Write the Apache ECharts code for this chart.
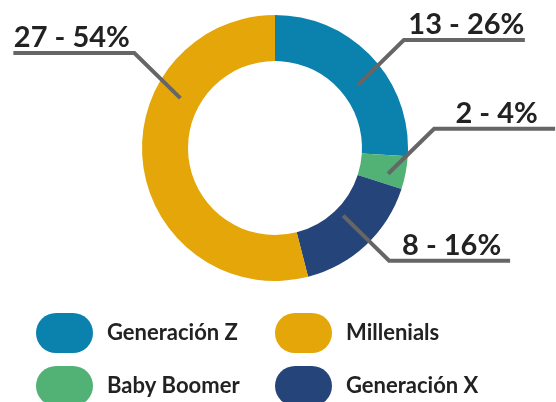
<!DOCTYPE html>
<html><head><meta charset="utf-8">
<script src="https://cdn.jsdelivr.net/npm/echarts@6/dist/echarts.min.js"></script>
<style>html,body{margin:0;padding:0;background:#fff}#c{width:556px;height:402px}</style>
</head><body><div id="c"></div>
<script>
// data (clockwise from top)
const categories = ['Generación Z', 'Baby Boomer', 'Generación X', 'Millenials'];
const values = [13, 2, 8, 27];
const legendCol1 = ['Generación Z', 'Baby Boomer'];
const legendCol2 = ['Millenials', 'Generación X'];

// styles / layout
const colors = ['#0a82ad', '#52b275', '#25457a', '#e4a608'];
const CX = 275, CY = 148, R0 = 87, R1 = 133;
// leader line: angle offset from slice mid-angle (deg), start radius, vertical direction
const leader = [
  { off: 6, rho: 104, dir: -1 },
  { off: 2, rho: 116, dir: -1 },
  { off: -2, rho: 96, dir: 1 },
  { off: 35, rho: 107, dir: -1 }
];
const DIAG_X = 46, DIAG_Y = 45, HLEN = 121;

const legendBase = {
  orient: 'vertical', top: 313, height: 120, padding: 0,
  itemWidth: 57, itemHeight: 40, itemGap: 13,
  icon: 'path://M20,0H37A20,20,0,0,1,37,40H20A20,20,0,0,1,20,0Z',
  selectedMode: false,
  textStyle: { fontFamily: 'Lato', fontWeight: 'bold', fontSize: 22, color: '#222', padding: [0, 0, 0, 9] }
};

const chart = echarts.init(document.getElementById('c'), null, { renderer: 'canvas' });
chart.setOption({
  animation: false,
  color: colors,
  legend: [
    Object.assign({}, legendBase, { data: legendCol1, left: 36 }),
    Object.assign({}, legendBase, { data: legendCol2, left: 275 })
  ],
  series: [{
    type: 'pie',
    center: [CX, CY],
    radius: [R0, R1],
    startAngle: 90,
    clockwise: true,
    avoidLabelOverlap: false,
    emphasis: { disabled: true },
    data: categories.map((n, i) => ({ name: n, value: values[i] })),
    label: {
      show: true, position: 'outside',
      formatter: p => p.value + ' - ' + p.percent + '%',
      fontFamily: 'Lato', fontWeight: 'bold', fontSize: 29, color: '#222', lineHeight: 29
    },
    labelLine: { show: true, length: 20, length2: 20, lineStyle: { color: '#666', width: 4, cap: 'butt', join: 'miter' } },
    labelLayout: function (p) {
      const L = leader[p.dataIndex];
      const pt = p.labelLinePoints[0];
      const a = Math.atan2(pt[1] - CY, pt[0] - CX) + L.off * Math.PI / 180;
      const sx = CX + L.rho * Math.cos(a), sy = CY + L.rho * Math.sin(a);
      const side = sx >= CX ? 1 : -1;
      const ex = sx + side * DIAG_X, ey = sy + L.dir * DIAG_Y;
      const hx = ex + side * HLEN;
      return {
        x: (ex + hx) / 2 + side * 2,
        y: ey - 1,
        align: 'center',
        verticalAlign: 'bottom',
        labelLinePoints: [[sx, sy], [ex, ey], [hx, ey]]
      };
    }
  }]
});

// bring leader lines above the ring
function raiseGuides() {
  const view = chart.getViewOfSeriesModel(chart.getModel().getSeriesByIndex(0));
  view.group.traverse(function (el) {
    const g = el.getTextGuideLine && el.getTextGuideLine();
    if (g) { g.z2 = 1000; g.zlevel = el.zlevel; g.z = el.z + 1; g.dirty(); }
  });
  chart.getZr().refreshImmediately();
}
raiseGuides();
</script></body></html>
